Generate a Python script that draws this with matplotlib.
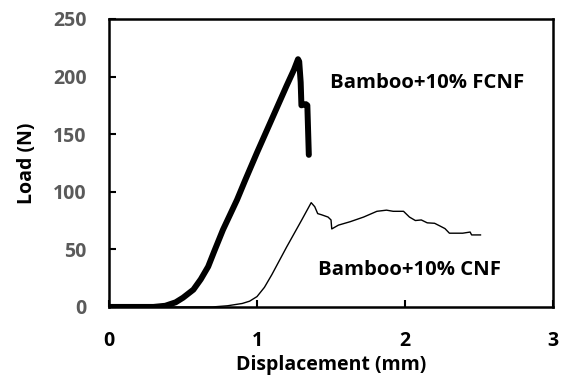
import numpy as np
import matplotlib
matplotlib.use("Agg")
import matplotlib.pyplot as plt

# Bamboo+10% FCNF (thick curve)
fcnf_disp = [0.0, 0.3, 0.38, 0.45, 0.5, 0.57, 0.62, 0.67, 0.71, 0.77, 0.865, 0.92, 1.0, 1.1, 1.2,
             1.25, 1.277, 1.285, 1.295, 1.30, 1.33, 1.34, 1.35]
fcnf_load = [0, 0, 1, 4, 8, 15, 24, 35, 48, 67, 93, 110, 134, 163, 192,
             206, 215, 213, 195, 175, 176, 175, 132]

# Bamboo+10% CNF (thin curve)
cnf_disp = [0.0, 0.7, 0.8, 0.9, 0.95, 1.0, 1.05, 1.1, 1.15, 1.2, 1.3, 1.366, 1.39, 1.41,
            1.436, 1.48, 1.50, 1.505, 1.55, 1.63, 1.72, 1.81, 1.875, 1.92, 1.99,
            2.03, 2.07, 2.11, 2.15, 2.20, 2.24, 2.27, 2.30, 2.39, 2.44, 2.45, 2.51]
cnf_load = [0, 0, 1, 3, 5, 9, 17, 28, 40, 52, 75, 90.5, 87, 81,
            80, 78, 75.5, 67.7, 71, 74, 78, 83, 84, 83, 83,
            78, 75, 75.5, 73, 72.6, 70, 68, 64, 64, 65, 62.5, 62.5]

x_ticks = [0, 1, 2, 3]
y_ticks = [0, 50, 100, 150, 200, 250]

font = ["Open Sans", "DejaVu Sans"]

fig = plt.figure(figsize=(5.62, 3.78), dpi=100)
ax = fig.add_axes([0.194, 0.188, 0.79, 0.762])

ax.plot(fcnf_disp, fcnf_load, color="black", lw=4.3, solid_capstyle="round", solid_joinstyle="round")
ax.plot(cnf_disp, cnf_load, color="black", lw=1.0)

ax.set_xlim(0, 3)
ax.set_ylim(0, 250)
ax.set_xticks(x_ticks)
ax.set_yticks(y_ticks)
ax.set_xticklabels([str(v) for v in x_ticks], fontfamily=font, fontweight="bold", fontsize=14, color="black")
ax.set_yticklabels([str(v) for v in y_ticks], fontfamily=font, fontweight="bold", fontsize=14, color="#5a5a5a")
ax.tick_params(direction="in", length=5, width=1.5)
ax.tick_params(axis="y", pad=16)
ax.tick_params(axis="x", pad=17)

for s in ax.spines.values():
    s.set_linewidth(1.8)

ax.set_xlabel("Displacement (mm)", fontfamily=font, fontweight="bold", fontsize=14, labelpad=3)
ax.set_ylabel("Load (N)", fontfamily=font, fontweight="bold", fontsize=14, labelpad=12)

ax.text(1.49, 194, "Bamboo+10% FCNF", fontfamily=font, fontweight="bold", fontsize=14.6, va="center")
ax.text(1.41, 32, "Bamboo+10% CNF", fontfamily=font, fontweight="bold", fontsize=14.6, va="center")

fig.savefig("out.png", dpi=100)
